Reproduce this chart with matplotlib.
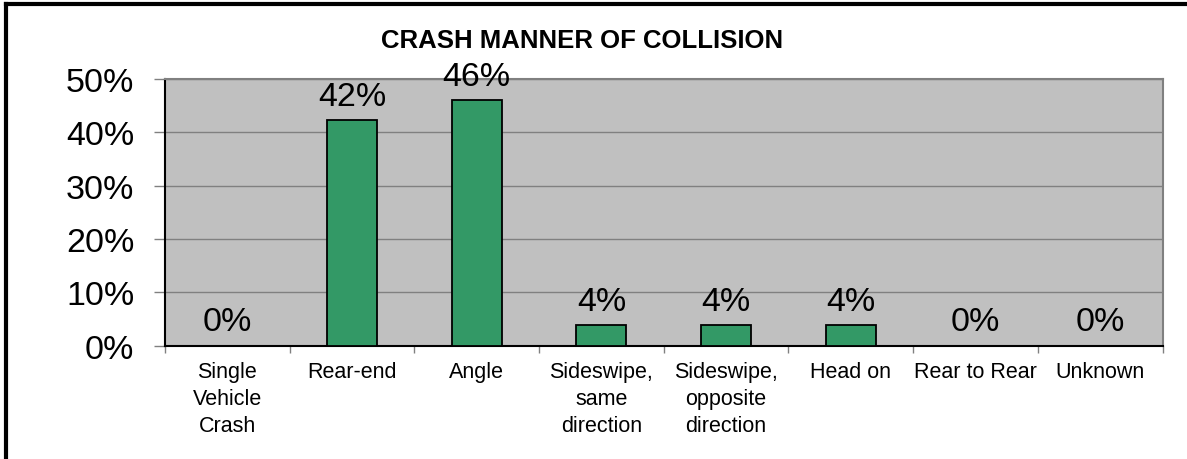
import matplotlib
matplotlib.use("Agg")
import matplotlib.pyplot as plt
from matplotlib.lines import Line2D
import numpy as np

categories = ["Single\nVehicle\nCrash", "Rear-end", "Angle", "Sideswipe,\nsame\ndirection",
              "Sideswipe,\nopposite\ndirection", "Head on", "Rear to Rear", "Unknown"]
values = [0.0, 42.3, 46.1, 3.9, 3.9, 3.9, 0.0, 0.0]
labels = ["0%", "42%", "46%", "4%", "4%", "4%", "0%", "0%"]
yticks = [0, 10, 20, 30, 40, 50]
ytick_labels = ["0%", "10%", "20%", "30%", "40%", "50%"]
title = "CRASH MANNER OF COLLISION"

plt.rcParams['font.family'] = ['Liberation Sans', 'DejaVu Sans']

fig = plt.figure(figsize=(11.87, 4.6), dpi=100)
ax = fig.add_axes([165/1187, 1 - 346.7/460, (1162.5 - 165)/1187, (346.7 - 80)/460])
ax.set_facecolor("#C0C0C0")

x = np.arange(len(categories))
ax.bar(x, values, width=0.4, color="#339966", edgecolor="black", linewidth=1.3, zorder=3)

for xi, v, lab in zip(x, values, labels):
    ax.annotate(lab, (xi, v), xytext=(0, 11), textcoords="offset points",
                ha="center", va="baseline", fontsize=24.5, zorder=4, annotation_clip=False)

ax.set_xlim(-0.5, len(categories) - 0.5)
ax.set_ylim(0, 50)
ax.set_yticks(yticks)
ax.set_yticklabels(ytick_labels, fontsize=24.5)
ax.yaxis.grid(True, color="#808080", linewidth=1, zorder=1)
ax.set_axisbelow(True)

ax.set_xticks(x)
ax.set_xticklabels(categories, fontsize=15.5, linespacing=1.38)
ax.set_xticks(np.arange(len(categories) + 1) - 0.5, minor=True)
ax.tick_params(axis="x", which="major", length=0, pad=11)
ax.tick_params(axis="x", which="minor", length=5, color="#808080", width=1)
ax.tick_params(axis="y", length=8, color="#808080", width=1, pad=14)

for s in ["top", "right"]:
    ax.spines[s].set_color("#808080")
    ax.spines[s].set_linewidth(1.5)
for s in ["left", "bottom"]:
    ax.spines[s].set_color("black")
    ax.spines[s].set_linewidth(1.5)

fig.text(582.5/1187, 1 - 41/460, title, ha="center", va="center", fontsize=18.5, fontweight="bold")

# outer border (top and left visible)
fig.add_artist(Line2D([6/1187, 1], [1 - 5/460, 1 - 5/460], color="black", linewidth=3, transform=fig.transFigure))
fig.add_artist(Line2D([6/1187, 6/1187], [0, 1 - 5/460], color="black", linewidth=3, transform=fig.transFigure))

fig.savefig("out.png", dpi=100)
